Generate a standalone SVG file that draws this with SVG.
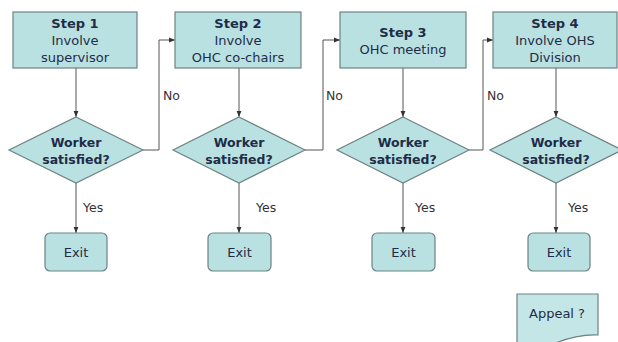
<svg xmlns="http://www.w3.org/2000/svg" width="618" height="342" viewBox="0 0 618 342">
<defs>
<marker id="ah" viewBox="0 0 10 10" refX="10" refY="5" markerWidth="6" markerHeight="6" orient="auto" markerUnits="userSpaceOnUse">
<path d="M0,1 L10,5 L0,9 Z" fill="#333"/>
</marker>
<style>
.box{fill:#bae1e1;stroke:#6d8384;stroke-width:1.2}
.t{font-family:"DejaVu Sans",Verdana,sans-serif;font-size:13px;fill:#1e2c48;text-anchor:middle}
.b{font-weight:bold}
.d{font-size:12.5px}
.lbl{font-family:"DejaVu Sans",Verdana,sans-serif;font-size:12.5px;fill:#333}
.c{fill:none;stroke:#555;stroke-width:1}
</style>
</defs>
<rect width="618" height="342" fill="#fff"/>
<g id="connectors">
<path class="c" d="M76,68 V117" marker-end="url(#ah)"/>
<path class="c" d="M239,68 V117" marker-end="url(#ah)"/>
<path class="c" d="M403,68 V117" marker-end="url(#ah)"/>
<path class="c" d="M556,68 V117" marker-end="url(#ah)"/>
<path class="c" d="M76,183 V233" marker-end="url(#ah)"/>
<path class="c" d="M239,183 V233" marker-end="url(#ah)"/>
<path class="c" d="M403,183 V233" marker-end="url(#ah)"/>
<path class="c" d="M556,183 V233" marker-end="url(#ah)"/>
<path class="c" d="M143,150 H159 V40 H175" marker-end="url(#ah)"/>
<path class="c" d="M305,150 H323 V40 H340" marker-end="url(#ah)"/>
<path class="c" d="M469,150 H483 V40 H493" marker-end="url(#ah)"/>
<text class="lbl" x="163" y="100">No</text>
<text class="lbl" x="326" y="100">No</text>
<text class="lbl" x="487" y="100">No</text>
<text class="lbl" x="83" y="212">Yes</text>
<text class="lbl" x="256" y="212">Yes</text>
<text class="lbl" x="415" y="212">Yes</text>
<text class="lbl" x="568" y="212">Yes</text>
</g>
<g id="step1">
<rect class="box" x="13" y="12" width="124" height="56"/>
<text class="t b" x="75" y="28">Step 1</text>
<text class="t" x="75" y="45">Involve</text>
<text class="t" x="75" y="62">supervisor</text>
</g>
<g id="step2">
<rect class="box" x="175" y="12" width="126" height="56"/>
<text class="t b" x="238" y="28">Step 2</text>
<text class="t" x="238" y="45">Involve</text>
<text class="t" x="238" y="62">OHC co-chairs</text>
</g>
<g id="step3">
<rect class="box" x="340" y="12" width="126" height="56"/>
<text class="t b" x="403" y="37">Step 3</text>
<text class="t" x="403" y="54">OHC meeting</text>
</g>
<g id="step4">
<rect class="box" x="493" y="12" width="124" height="56"/>
<text class="t b" x="555" y="28">Step 4</text>
<text class="t" x="555" y="45">Involve OHS</text>
<text class="t" x="555" y="62">Division</text>
</g>
<g id="decision1">
<polygon class="box" points="76,117 143,150 76,183 9,150"/>
<text class="t b d" x="76" y="147">Worker</text>
<text class="t b d" x="76" y="164">satisfied?</text>
</g>
<g id="decision2">
<polygon class="box" points="239,117 305,150 239,183 173,150"/>
<text class="t b d" x="239" y="147">Worker</text>
<text class="t b d" x="239" y="164">satisfied?</text>
</g>
<g id="decision3">
<polygon class="box" points="403,117 469,150 403,183 337,150"/>
<text class="t b d" x="403" y="147">Worker</text>
<text class="t b d" x="403" y="164">satisfied?</text>
</g>
<g id="decision4">
<polygon class="box" points="556,117 622,150 556,183 490,150"/>
<text class="t b d" x="556" y="147">Worker</text>
<text class="t b d" x="556" y="164">satisfied?</text>
</g>
<g id="exit1">
<rect class="box" x="45" y="233" width="62" height="38" rx="5"/>
<text class="t" x="76" y="257">Exit</text>
</g>
<g id="exit2">
<rect class="box" x="208" y="233" width="63" height="38" rx="5"/>
<text class="t" x="239.5" y="257">Exit</text>
</g>
<g id="exit3">
<rect class="box" x="372" y="233" width="63" height="38" rx="5"/>
<text class="t" x="403.5" y="257">Exit</text>
</g>
<g id="exit4">
<rect class="box" x="528" y="233" width="62" height="38" rx="5"/>
<text class="t" x="559" y="257">Exit</text>
</g>
<g id="appeal">
<path class="box" d="M517,294 H598 V335 Q578,334 556,343 H517 Z" style="fill:#c4e6e6"/>
<text class="t" x="557" y="318">Appeal ?</text>
</g>
</svg>
